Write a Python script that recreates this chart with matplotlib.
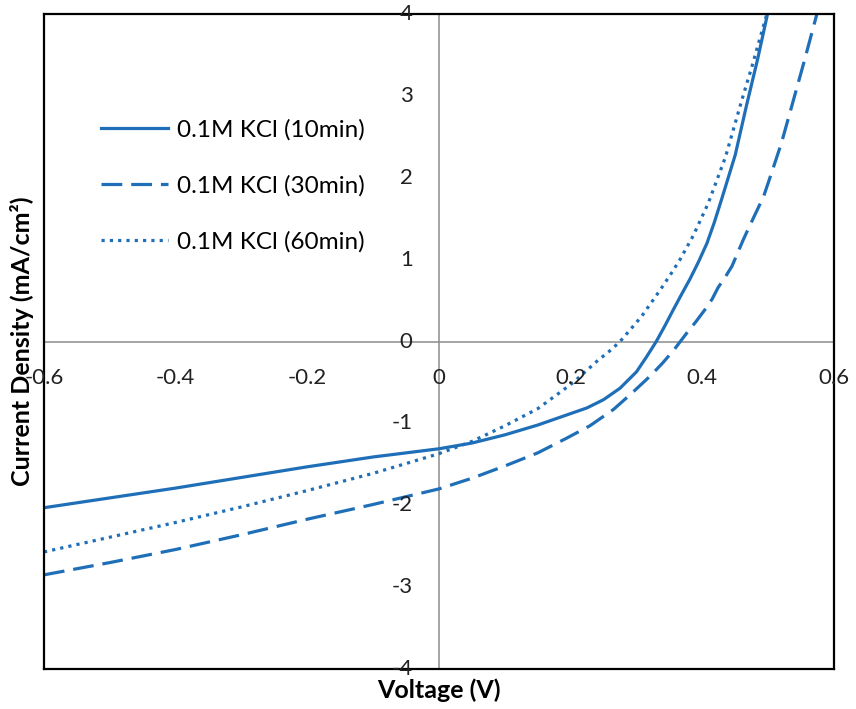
import matplotlib
matplotlib.use('Agg')
import matplotlib.pyplot as plt

# Voltage (V) / current density (mA/cm2)
v_10 = [-0.6, -0.5, -0.4, -0.3, -0.2, -0.1, 0.0, 0.05, 0.1, 0.15, 0.2, 0.225, 0.25,
        0.275, 0.3, 0.315, 0.33, 0.343, 0.356, 0.368, 0.381, 0.394, 0.407, 0.418, 0.429,
        0.45, 0.467, 0.484, 0.499, 0.505]
j_10 = [-2.03, -1.91, -1.79, -1.66, -1.53, -1.41, -1.31, -1.24, -1.14, -1.02, -0.88, -0.81, -0.71,
        -0.57, -0.37, -0.19, 0.0, 0.19, 0.39, 0.57, 0.76, 0.97, 1.20, 1.45, 1.73,
        2.28, 2.88, 3.45, 4.0, 4.2]

v_30 = [-0.6, -0.5, -0.4, -0.3, -0.2, -0.1, 0.0, 0.05, 0.1, 0.15, 0.194, 0.229, 0.265,
        0.293, 0.321, 0.34, 0.358, 0.376, 0.39, 0.404, 0.415, 0.424, 0.435, 0.445, 0.462,
        0.47, 0.48, 0.493, 0.506, 0.52, 0.536, 0.555, 0.574, 0.58]
j_30 = [-2.85, -2.70, -2.54, -2.36, -2.17, -1.99, -1.80, -1.67, -1.52, -1.36, -1.18, -1.03, -0.83,
        -0.63, -0.42, -0.26, -0.09, 0.10, 0.24, 0.39, 0.52, 0.66, 0.79, 0.92, 1.24,
        1.38, 1.55, 1.77, 2.08, 2.42, 2.88, 3.43, 4.0, 4.2]

v_60 = [-0.6, -0.5, -0.4, -0.3, -0.2, -0.1, 0.0, 0.05, 0.1, 0.15, 0.184, 0.204, 0.24,
        0.26, 0.275, 0.29, 0.308, 0.322, 0.336, 0.351, 0.366, 0.386, 0.397, 0.409, 0.435,
        0.46, 0.475, 0.498, 0.504]
j_60 = [-2.57, -2.39, -2.21, -2.02, -1.82, -1.61, -1.37, -1.22, -1.03, -0.82, -0.62, -0.50, -0.24,
        -0.11, 0.0, 0.14, 0.31, 0.47, 0.63, 0.81, 1.0, 1.29, 1.48, 1.69, 2.25,
        2.95, 3.35, 4.0, 4.2]

labels = ['0.1M KCl (10min)', '0.1M KCl (30min)', '0.1M KCl (60min)']
x_ticks = [-0.6, -0.4, -0.2, 0, 0.2, 0.4, 0.6]
y_ticks = [-4, -3, -2, -1, 0, 1, 2, 3, 4]

plt.rcParams['font.family'] = ['Lato', 'DejaVu Sans']
blue = '#1f6fb8'

fig = plt.figure(figsize=(8.56, 7.09), dpi=100)
ax = fig.add_axes([0.0514, 0.0564, 0.9229, 0.9238])

ax.plot(v_10, j_10, color=blue, lw=2.3, label=labels[0])
ax.plot(v_30, j_30, color=blue, lw=2.3, linestyle=(0, (6.5, 2.8)), label=labels[1])
ax.plot(v_60, j_60, color=blue, lw=2.3, linestyle=(0, (1, 1.6)), label=labels[2])

ax.set_xlim(-0.6, 0.6)
ax.set_ylim(-4, 4)

# axes crossing at zero
ax.axhline(0, color='#8c8c8c', lw=1.1, zorder=0)
ax.axvline(0, color='#8c8c8c', lw=1.1, zorder=0)

for s in ax.spines.values():
    s.set_color('black')
    s.set_linewidth(1.6)

ax.set_xticks([])
ax.set_yticks([])

# tick labels sit next to the zero lines
for t in y_ticks:
    ax.annotate(f'{t}', xy=(0, t), xytext=(-19, 0), textcoords='offset points',
                ha='right', va='center', fontsize=16, color='#222222', annotation_clip=False)
for t in x_ticks:
    lab = '0' if t == 0 else f'{t:g}'
    ax.annotate(lab, xy=(t, 0), xytext=(0, -26), textcoords='offset points',
                ha='center', va='center', fontsize=16, color='#222222', annotation_clip=False)

fig.text(0.026, 0.519, 'Current Density (mA/cm²)', rotation=90, ha='center', va='center',
         fontsize=18, fontweight='bold')
fig.text(0.513, 0.026, 'Voltage (V)', ha='center', va='center', fontsize=18, fontweight='bold')

ax.legend(loc='upper left', bbox_to_anchor=(0.072, 0.84), frameon=False, fontsize=17.5,
          handlelength=2.75, handletextpad=0.4, labelspacing=1.42, borderpad=0, borderaxespad=0)

fig.savefig('out.png', dpi=100)
